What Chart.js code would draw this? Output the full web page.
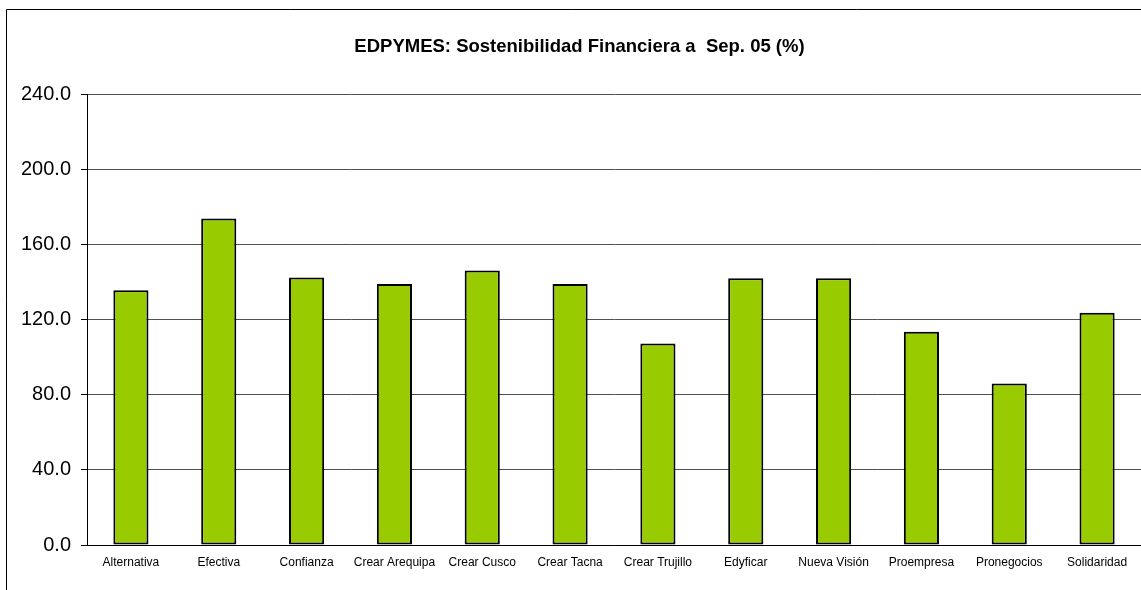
<!DOCTYPE html>
<html>
<head>
<meta charset="utf-8">
<script src="https://cdn.jsdelivr.net/npm/chart.js@4.4.0/dist/chart.umd.min.js"></script>
<style>
  html, body { margin: 0; padding: 0; background: #ffffff; }
  #wrap { width: 1141px; height: 590px; position: relative; overflow: hidden; }
</style>
</head>
<body>
<div id="wrap"><canvas id="c" width="1141" height="590"></canvas></div>
<script>
const categories = ["Alternativa", "Efectiva", "Confianza", "Crear Arequipa", "Crear Cusco", "Crear Tacna", "Crear Trujillo", "Edyficar", "Nueva Visión", "Proempresa", "Pronegocios", "Solidaridad"];
const values = [135.5, 173.7, 142.4, 138.9, 146.1, 138.9, 107.2, 141.9, 141.9, 113.5, 85.9, 123.6];
const titleText = "EDPYMES: Sostenibilidad Financiera a  Sep. 05 (%)";
const yMin = 0, yMax = 240, yStep = 40;

const framePlugin = {
  id: 'frame',
  beforeDraw(chart) {
    const ctx = chart.ctx;
    ctx.save();
    ctx.fillStyle = '#ffffff';
    ctx.fillRect(0, 0, chart.width, chart.height);
    ctx.strokeStyle = '#000000';
    ctx.lineWidth = 1;
    ctx.beginPath();
    ctx.moveTo(6.5, chart.height);
    ctx.lineTo(6.5, 9.5);
    ctx.lineTo(chart.width, 9.5);
    ctx.stroke();
    ctx.restore();
  },
  afterDraw(chart) {
    const ctx = chart.ctx;
    ctx.save();
    ctx.fillStyle = '#000000';
    ctx.font = 'bold 18.5px Arial, "Liberation Sans", sans-serif';
    ctx.textAlign = 'center';
    ctx.textBaseline = 'middle';
    ctx.fillText(titleText, 579.5, 46.5);
    ctx.restore();
  }
};

new Chart(document.getElementById('c'), {
  type: 'bar',
  data: {
    labels: categories,
    datasets: [{
      data: values,
      backgroundColor: '#99CC00',
      borderColor: '#000000',
      borderWidth: 2,
      borderSkipped: false,
      barPercentage: 0.4,
      categoryPercentage: 1.0
    }]
  },
  options: {
    responsive: false,
    animation: false,
    devicePixelRatio: 1,
    layout: { padding: { left: 0, right: -2, top: 94, bottom: 0 } },
    plugins: {
      legend: { display: false },
      tooltip: { enabled: false },
      title: { display: false }
    },
    scales: {
      x: {
        grid: { display: false, drawTicks: false },
        border: { display: true, color: '#000000', width: 1 },
        ticks: {
          color: '#000000',
          font: { family: 'Arial, "Liberation Sans", sans-serif', size: 12 },
          padding: 10,
          maxRotation: 0,
          autoSkip: false
        },
        afterFit(scale) { scale.height = 45; }
      },
      y: {
        min: yMin,
        max: yMax,
        grid: { color: '#505050', lineWidth: 1, tickLength: 6, tickColor: '#000000' },
        border: { display: true, color: '#000000', width: 1 },
        ticks: {
          stepSize: yStep,
          color: '#000000',
          padding: 10,
          font: { family: 'Arial, "Liberation Sans", sans-serif', size: 20 },
          callback: (v) => Number(v).toFixed(1)
        },
        afterFit(scale) { scale.width = 87; }
      }
    }
  },
  plugins: [framePlugin]
});
</script>
</body>
</html>
